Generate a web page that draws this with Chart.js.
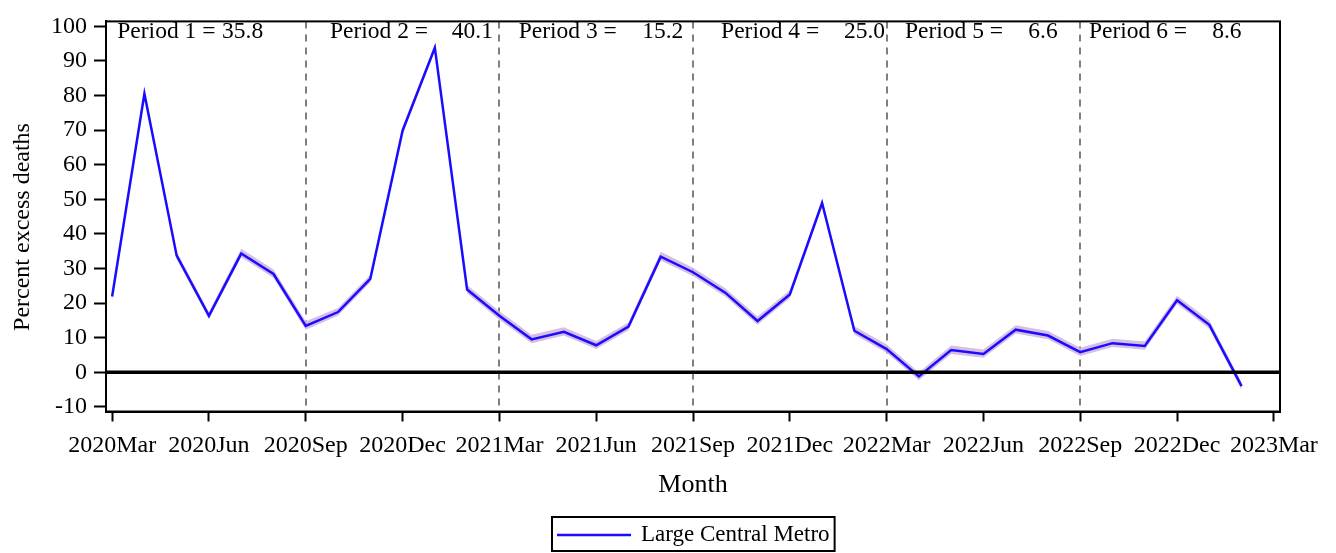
<!DOCTYPE html>
<html>
<head>
<meta charset="utf-8">
<script src="https://cdn.jsdelivr.net/npm/chart.js@4/dist/chart.umd.min.js"></script>
<style>
  html, body { margin: 0; padding: 0; background: #fff; }
  #wrap { width: 1336px; height: 553px; }
</style>
</head>
<body>
<div id="wrap"><canvas id="grafico"></canvas></div>
<script>
// meses desde 2020 Mar (indice 0) hasta 2023 Feb (indice 35)
const meses = [0,1,2,3,4,5,6,7,8,9,10,11,12,13,14,15,16,17,18,19,20,21,22,23,24,25,26,27,28,29,30,31,32,33,34,35];
const exceso = [21.9, 80.5, 33.7, 16.3, 34.3, 28.4, 13.4, 17.4, 27.0, 69.8,
                93.8, 23.9, 16.3, 9.5, 11.7, 7.8, 13.2, 33.4, 28.9, 23.0, 14.8, 22.5,
                48.9, 12.0, 6.7, -1.2, 6.4, 5.3, 12.3, 10.6, 5.8, 8.4, 7.6, 20.8,
                13.7, -4.0];
const limiteSup = [22.7, 81.4, 34.8, 17.4, 35.7, 29.7, 14.7, 18.6, 28.2, 70.8,
                   94.7, 25.2, 17.6, 10.8, 13.0, 9.0, 14.4, 34.8, 30.2, 24.3, 16.1, 23.7,
                   50.0, 13.3, 8.0, 0.0, 7.7, 6.6, 13.6, 11.9, 7.1, 9.7, 8.9, 22.1,
                   15.0, -2.9];
const limiteInf = [21.1, 79.6, 32.7, 15.3, 33.2, 27.3, 12.3, 16.3, 25.9, 68.8,
                   92.9, 22.8, 15.2, 8.4, 10.6, 6.7, 12.1, 32.3, 27.8, 21.9, 13.7, 21.4,
                   47.8, 10.9, 5.6, -2.3, 5.3, 4.2, 11.2, 9.5, 4.7, 7.3, 6.5, 19.7,
                   12.6, -5.1];

const ticksX = [0, 3, 6, 9, 12, 15, 18, 21, 24, 27, 30, 33, 36];
const etiquetasX = ["2020Mar", "2020Jun", "2020Sep", "2020Dec", "2021Mar", "2021Jun",
                    "2021Sep", "2021Dec", "2022Mar", "2022Jun", "2022Sep", "2022Dec", "2023Mar"];
const ticksY = [-10, 0, 10, 20, 30, 40, 50, 60, 70, 80, 90, 100];

const cortes = [6, 12, 18, 24, 30];
const periodos = ["Period 1 =", "Period 2 =", "Period 3 =", "Period 4 =", "Period 5 =", "Period 6 ="];
const valoresPeriodo = ["35.8", "40.1", "15.2", "25.0", "6.6", "8.6"];
const serieNombre = "Large Central Metro";

const fuente = "'Liberation Serif', 'Times New Roman', serif";

const puntos = (arr) => meses.map((m, i) => ({ x: m, y: arr[i] }));

// lineas punteadas, linea en cero, textos de periodo, marco y leyenda
const extras = {
    id: "extras",
    beforeDatasetsDraw(chart) {
        const { ctx, chartArea, scales } = chart;
        ctx.save();
        ctx.strokeStyle = "#7f7f7f";
        ctx.lineWidth = 2;
        ctx.setLineDash([7, 6]);
        cortes.forEach(c => {
            const x = Math.round(scales.x.getPixelForValue(c));
            ctx.beginPath();
            ctx.moveTo(x, chartArea.top);
            ctx.lineTo(x, chartArea.bottom);
            ctx.stroke();
        });
        ctx.restore();
    },
    afterDatasetsDraw(chart) {
        const { ctx, chartArea, scales } = chart;
        ctx.save();
        const y0 = scales.y.getPixelForValue(0);
        ctx.strokeStyle = "#000";
        ctx.lineWidth = 3.5;
        ctx.beginPath();
        ctx.moveTo(chartArea.left, y0);
        ctx.lineTo(chartArea.right, y0);
        ctx.stroke();

        // marco completo
        ctx.lineWidth = 2;
        ctx.strokeRect(chartArea.left, chartArea.top, chartArea.right - chartArea.left, chartArea.bottom - chartArea.top);

        // textos de periodo
        const xNombre = [0.16, 6.75, 12.6, 18.87, 24.57, 30.27];
        const xValor = [4.68, 11.8, 17.7, 23.95, 29.3, 35.0];
        ctx.fillStyle = "#000";
        ctx.font = "23.5px " + fuente;
        ctx.textBaseline = "alphabetic";
        periodos.forEach((p, i) => {
            ctx.textAlign = "left";
            ctx.fillText(p, scales.x.getPixelForValue(xNombre[i]), 38);
            ctx.textAlign = "right";
            ctx.fillText(valoresPeriodo[i], scales.x.getPixelForValue(xValor[i]), 38);
        });

        // titulo eje y
        ctx.save();
        ctx.translate(23, 227);
        ctx.rotate(-Math.PI / 2);
        ctx.textAlign = "center";
        ctx.textBaseline = "middle";
        ctx.font = "24px " + fuente;
        ctx.fillText("Percent excess deaths", 0, 0);
        ctx.restore();

        // leyenda
        ctx.font = "23px " + fuente;
        const anchoTexto = ctx.measureText(serieNombre).width;
        const ancho = 5 + 74 + 10 + anchoTexto + 5;
        const cx = (chartArea.left + chartArea.right) / 2;
        const lx = Math.round(cx - ancho / 2);
        const ly = 517;
        ctx.lineWidth = 2;
        ctx.strokeStyle = "#000";
        ctx.strokeRect(lx, ly, ancho, 34);
        ctx.strokeStyle = "#1a0dff";
        ctx.lineWidth = 2.5;
        ctx.beginPath();
        ctx.moveTo(lx + 5, ly + 18);
        ctx.lineTo(lx + 79, ly + 18);
        ctx.stroke();
        ctx.textAlign = "left";
        ctx.textBaseline = "middle";
        ctx.fillText(serieNombre, lx + 89, ly + 18);
        ctx.restore();
    }
};

new Chart(document.getElementById("grafico"), {
    type: "line",
    data: {
        datasets: [
            {
                label: serieNombre,
                data: puntos(exceso),
                borderColor: "#1a0dff",
                borderWidth: 2.5,
                pointRadius: 0,
                tension: 0,
                fill: false,
                order: 0
            },
            {
                label: "upper",
                data: puntos(limiteSup),
                borderWidth: 0,
                pointRadius: 0,
                backgroundColor: "rgba(210, 178, 225, 0.85)",
                fill: false,
                order: 2
            },
            {
                label: "lower",
                data: puntos(limiteInf),
                borderWidth: 0,
                pointRadius: 0,
                backgroundColor: "rgba(210, 178, 225, 0.85)",
                fill: "-1",
                order: 1
            }
        ]
    },
    options: {
        responsive: true,
        maintainAspectRatio: false,
        animation: false,
        layout: { padding: { top: 11, right: 56, bottom: 45, left: 0 } },
        plugins: {
            legend: { display: false },
            tooltip: { enabled: false }
        },
        scales: {
            x: {
                type: "linear",
                min: -0.19,
                max: 36.19,
                afterBuildTicks: (scale) => { scale.ticks = ticksX.map(v => ({ value: v })); },
                afterFit: (scale) => { scale.height = 96.5; },
                ticks: {
                    autoSkip: false,
                    maxRotation: 0,
                    padding: 10,
                    color: "#000",
                    font: { family: fuente, size: 24 },
                    callback: (v) => etiquetasX[ticksX.indexOf(v)]
                },
                grid: {
                    drawOnChartArea: false,
                    tickLength: 10,
                    tickColor: "#000",
                    tickWidth: 2
                },
                border: { color: "#000", width: 2 },
                title: {
                    display: true,
                    text: "Month",
                    color: "#000",
                    font: { family: fuente, size: 26 },
                    padding: { top: 4, bottom: 7 }
                }
            },
            y: {
                min: -11.35,
                max: 101.4,
                afterBuildTicks: (scale) => { scale.ticks = ticksY.map(v => ({ value: v })); },
                afterFit: (scale) => { scale.width = 106; },
                ticks: {
                    padding: 7,
                    color: "#000",
                    font: { family: fuente, size: 24 }
                },
                grid: {
                    drawOnChartArea: false,
                    tickLength: 12,
                    tickColor: "#000",
                    tickWidth: 2
                },
                border: { color: "#000", width: 2 }
            }
        }
    },
    plugins: [extras]
});
</script>
</body>
</html>
